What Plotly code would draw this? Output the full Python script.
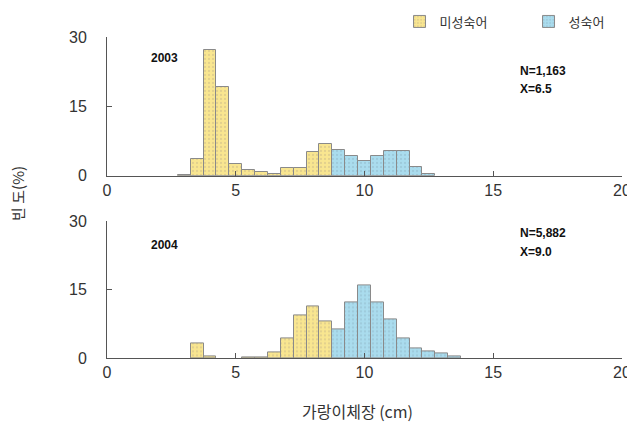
import plotly.graph_objects as go

bins = [3.0, 3.5, 4.0, 4.5, 5.0, 5.5, 6.0, 6.5, 7.0, 7.5, 8.0, 8.5,
        9.0, 9.5, 10.0, 10.5, 11.0, 11.5, 12.0, 12.5, 13.0, 13.5]
freq_2003 = [0.2, 3.6, 27.2, 19.1, 2.6, 1.3, 0.7, 0.3, 1.65, 1.65, 5.2, 6.8,
             5.5, 4.2, 3.1, 4.3, 5.4, 5.4, 1.8, 0.3, 0.0, 0.0]
freq_2004 = [0.0, 3.3, 0.3, 0.0, 0.0, 0.2, 0.2, 1.3, 4.2, 9.4, 11.3, 8.0,
             6.2, 12.3, 16.0, 12.3, 8.4, 4.2, 2.0, 1.45, 0.9, 0.4]
mature_from = 9.0
series_names = ["미성숙어", "성숙어"]
years = ["2003", "2004"]
n_labels = ["N=1,163", "N=5,882"]
mean_labels = ["X=6.5", "X=9.0"]
x_ticks = [0, 5, 10, 15, 20]
y_ticks = [0, 15, 30]

YELLOW = "#f9e690"
BLUE = "#aadcee"
colors = [YELLOW, BLUE]

fig = go.Figure()

for i, freq in enumerate([freq_2003, freq_2004]):
    xa = "x" if i == 0 else "x2"
    ya = "y" if i == 0 else "y2"
    imm_x = [b for b, f in zip(bins, freq) if b < mature_from and f > 0]
    imm_y = [f for b, f in zip(bins, freq) if b < mature_from and f > 0]
    mat_x = [b for b, f in zip(bins, freq) if b >= mature_from and f > 0]
    mat_y = [f for b, f in zip(bins, freq) if b >= mature_from and f > 0]
    for j, (xs, ys) in enumerate([(imm_x, imm_y), (mat_x, mat_y)]):
        fig.add_trace(go.Bar(
            x=xs, y=ys, width=0.5, xaxis=xa, yaxis=ya,
            name=series_names[j], showlegend=(i == 0),
            marker=dict(color=colors[j],
                        line=dict(color="#8a8a8a", width=1),
                        pattern=dict(shape=".", fgcolor="#c9b98a" if j == 0 else "#8fb8c8",
                                     size=4, solidity=0.25)),
        ))

tickfont = dict(size=16, color="#333", family="Liberation Sans")
axis_common = dict(range=[0, 20], tickvals=x_ticks, ticks="inside", ticklen=5,
                   showline=True, linecolor="#555", linewidth=1, showgrid=False,
                   zeroline=False, tickfont=tickfont, tickcolor="#555")
yaxis_common = dict(range=[0, 30], tickvals=y_ticks, ticks="inside", ticklen=5,
                    showline=True, linecolor="#555", linewidth=1, showgrid=False,
                    zeroline=False, tickfont=tickfont, tickcolor="#555", ticklabelstandoff=16)

fig.update_layout(
    width=627, height=418,
    margin=dict(l=99, r=13, t=29, b=68, autoexpand=False),
    plot_bgcolor="white", paper_bgcolor="white",
    barmode="overlay", bargap=0,
    xaxis=dict(domain=[0, 1], anchor="y", **axis_common),
    yaxis=dict(domain=[0.568, 1], anchor="x", **yaxis_common),
    xaxis2=dict(domain=[0, 1], anchor="y2", **axis_common),
    yaxis2=dict(domain=[0, 0.4255], anchor="x2", **yaxis_common),
    legend=dict(orientation="h", x=0.568, y=1.095, xanchor="left", yanchor="top",
                font=dict(size=13, color="#333", family="Noto Sans CJK KR"),
                entrywidth=84, bgcolor="rgba(0,0,0,0)", traceorder="normal"),
    font=dict(family="Liberation Sans"),
)

bold = dict(size=12, color="#111", family="Liberation Sans")
ann = []
for i in range(2):
    xr = "x" if i == 0 else "x2"
    yr = "y" if i == 0 else "y2"
    ann.append(dict(x=2.25, y=25.5 if i == 0 else 24.9, xref=xr, yref=yr, text=f"<b>{years[i]}</b>",
                    showarrow=False, font=bold, xanchor="center", yanchor="middle"))
    ann.append(dict(x=15.95, y=22.6 if i == 0 else 27.5, xref=xr, yref=yr, text=f"<b>{n_labels[i]}</b>",
                    showarrow=False, font=bold, xanchor="left", yanchor="middle"))
    ann.append(dict(x=15.95, y=18.7 if i == 0 else 23.2, xref=xr, yref=yr, text=f"<b>{mean_labels[i]}</b>",
                    showarrow=False, font=bold, xanchor="left", yanchor="middle"))
ann.append(dict(x=-0.175, y=0.514, xref="paper", yref="paper", text="빈 도(%)", textangle=-90,
                showarrow=False, font=dict(size=15, color="#333", family="Noto Sans CJK KR"),
                xanchor="center", yanchor="middle"))
ann.append(dict(x=0.487, y=-0.165, xref="paper", yref="paper", text="가랑이체장 (cm)",
                showarrow=False, font=dict(size=16, color="#333", family="Noto Sans CJK KR"),
                xanchor="center", yanchor="middle"))
fig.update_layout(annotations=ann)

fig.write_html("out.html")
